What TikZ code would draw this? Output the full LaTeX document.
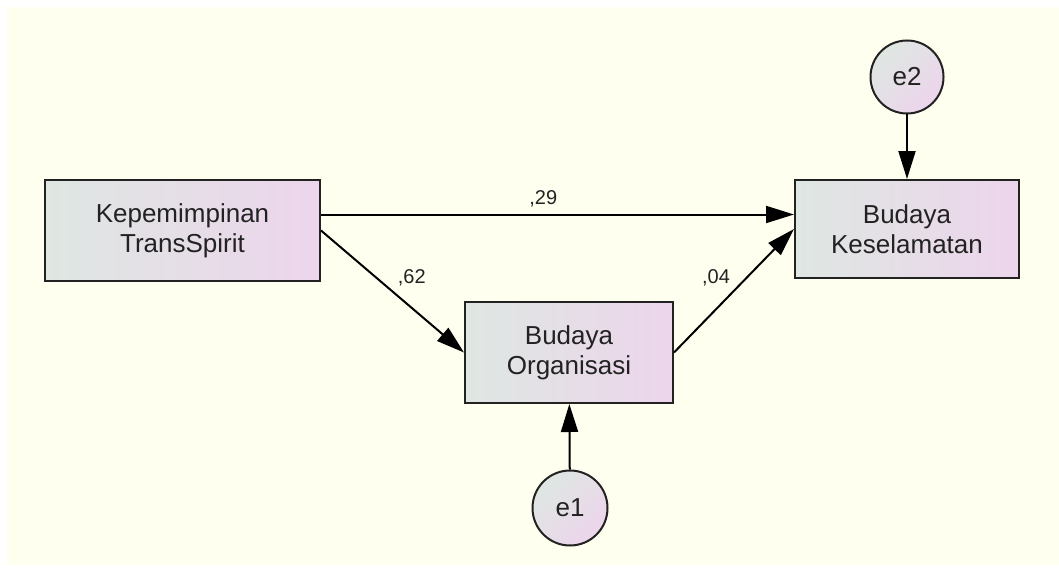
\documentclass[tikz,border=0pt]{standalone}
\usepackage{fontspec}
\setmainfont{Liberation Sans}
\usetikzlibrary{arrows.meta}

\definecolor{paper}{RGB}{255,255,240}
\definecolor{fillL}{RGB}{222,231,226}
\definecolor{fillR}{RGB}{237,213,236}
\definecolor{ink}{RGB}{34,34,34}

\tikzset{
  var/.style={draw=ink, line width=2pt, rectangle, left color=fillL, right color=fillR,
    align=center, text=ink, font=\fontsize{26}{30}\selectfont, inner sep=0pt},
  err/.style={draw=ink, line width=2pt, circle, left color=fillL, right color=fillR,
    shading angle=45, text=ink, font=\fontsize{26}{30}\selectfont, inner sep=0pt},
  arr/.style={draw=black, line width=2pt, -{Triangle[length=28pt,width=17pt]}},
  lbl/.style={text=ink, font=\fontsize{20}{24}\selectfont, inner sep=0pt}
}

\begin{document}
\begin{tikzpicture}[x=1pt, y=-1pt]
  % page and cream drawing area
  \useasboundingbox (0,0) rectangle (1059,567);
  \fill[white] (0,0) rectangle (1059,567);
  \fill[paper] (7,7) rectangle (1059,565);

  % observed variables
  \node[var, minimum width=275pt, minimum height=101pt] (kep) at (182.5,230.5) {Kepemimpinan\\TransSpirit};
  \node[var, minimum width=224pt, minimum height=98pt] (kes) at (907,229) {Budaya\\Keselamatan};
  \node[var, minimum width=208pt, minimum height=101pt] (org) at (569,352.5) {Budaya\\Organisasi};

  % residual terms
  \node[err, minimum size=73pt] (e2) at (907,77) {e2};
  \node[err, minimum size=75pt] (e1) at (570,508) {e1};

  % structural paths with coefficients
  \draw[arr] ([yshift=16pt]kep.east) -- ([yshift=16pt]kep.east -| kes.west)
    node[lbl, pos=0.47, yshift=16pt] {,29};
  \draw[arr] (kep.east) -- (org.west)
    node[lbl, pos=0.6, xshift=5pt, yshift=26pt] {,62};
  \draw[arr] (org.east) -- (kes.west)
    node[lbl, pos=0.35, yshift=31pt] {,04};

  % residual paths
  \draw[arr] (e2) -- (kes);
  \draw[arr] (e1) -- (org);
\end{tikzpicture}
\end{document}
